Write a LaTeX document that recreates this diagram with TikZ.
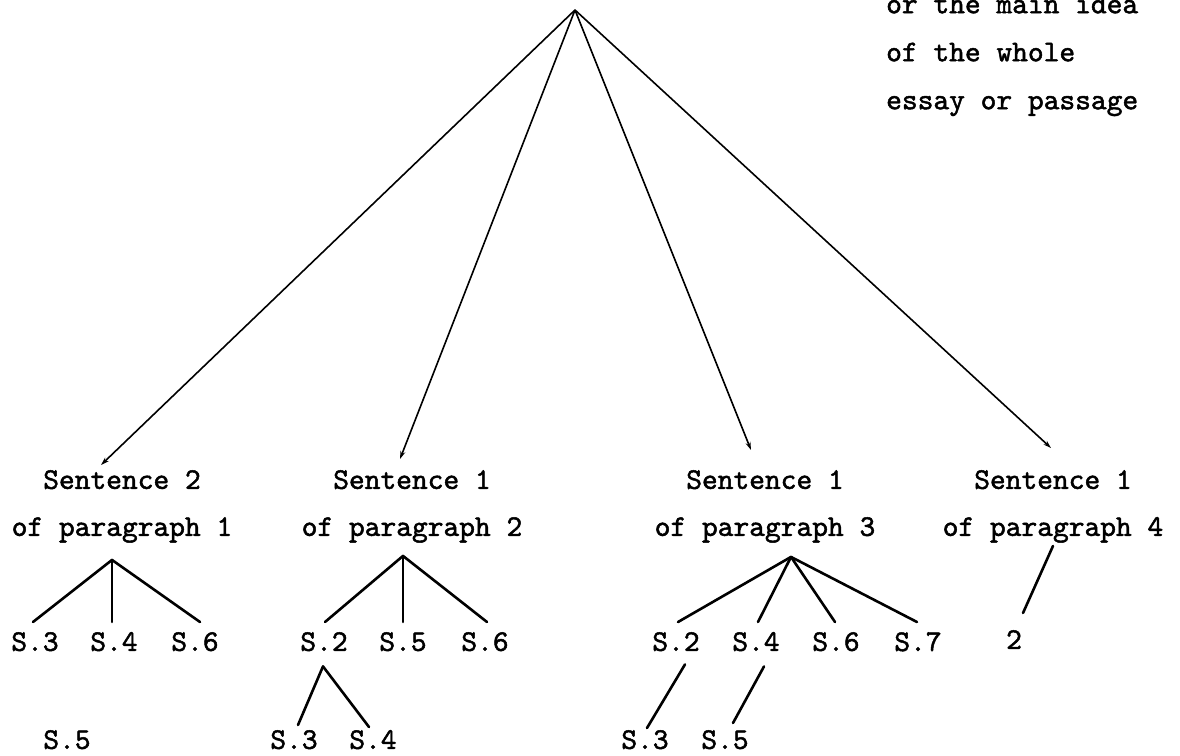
\documentclass[tikz,border=0pt]{standalone}
\usepackage{fontspec}
\newfontfamily\twfont{lmmono10-regular.otf}[FakeBold=1.6]
\usetikzlibrary{arrows.meta}
\begin{document}
\begin{tikzpicture}[x=1pt,y=-1pt,
  lbl/.style={font=\twfont\fontsize{30}{47}\selectfont, inner sep=0pt, anchor=north, align=center},
  mainline/.style={line width=1.6pt, -{Stealth[length=8pt,width=5pt]}},
  subline/.style={line width=2.6pt, line cap=round}]
\useasboundingbox (0,0) rectangle (1180,755);
\fill[white] (0,0) rectangle (1180,755);
\coordinate (top) at (575,10);
% second level
\node[lbl] (p1) at (122,470) {Sentence 2\\of paragraph 1};
\node[lbl] (p2) at (412,470) {Sentence 1\\of paragraph 2};
\node[lbl] (p3) at (765,470) {Sentence 1\\of paragraph 3};
\node[lbl] (p4) at (1053,470) {Sentence 1\\of paragraph 4};
\node[lbl, anchor=north west, align=left, font=\twfont\fontsize{30}{48}\selectfont] (note) at (886,-5.3) {or the main idea\\of the whole\\essay or passage};
% third level
\node[lbl] (a3) at (35,632) {S.3};
\node[lbl] (a4) at (114,632) {S.4};
\node[lbl] (a6) at (195,632) {S.6};
\node[lbl] (a5) at (67,730) {S.5};
\node[lbl] (b2) at (324,632) {S.2};
\node[lbl] (b5) at (403,632) {S.5};
\node[lbl] (b6) at (485,632) {S.6};
\node[lbl] (b3) at (294,730) {S.3};
\node[lbl] (b4) at (373,730) {S.4};
\node[lbl] (c2) at (676,632) {S.2};
\node[lbl] (c4) at (756,632) {S.4};
\node[lbl] (c6) at (836,632) {S.6};
\node[lbl] (c7) at (918,632) {S.7};
\node[lbl] (c3) at (645,730) {S.3};
\node[lbl] (c5) at (725,730) {S.5};
\node[lbl] (d2) at (1014,630) {2};
% junctions
\coordinate (j1) at ([xshift=-10pt,yshift=-17pt]p1.south);
\coordinate (j2) at ([xshift=-9pt,yshift=-13pt]p2.south);
\coordinate (j3) at ([xshift=26pt,yshift=-14pt]p3.south);
% main connectors
\draw[mainline] (top) -- ([xshift=-21pt,yshift=5pt]p1.north);
\draw[mainline] (top) -- ([xshift=-12pt,yshift=11pt]p2.north);
\draw[mainline] (top) -- ([xshift=-14pt,yshift=20pt]p3.north);
\draw[mainline] (top) -- ([xshift=-2pt,yshift=22pt]p4.north);
% paragraph 1
\draw[subline] (j1) -- ([xshift=-2pt,yshift=10pt]a3.north);
\draw[subline] (j1) -- ([xshift=-2pt,yshift=10pt]a4.north);
\draw[subline] (j1) -- ([xshift=5pt,yshift=10pt]a6.north);
% paragraph 2
\draw[subline] (j2) -- ([xshift=1pt,yshift=10pt]b2.north);
\draw[subline] (j2) -- ([yshift=10pt]b5.north);
\draw[subline] (j2) -- ([xshift=2pt,yshift=10pt]b6.north);
\draw[subline] ([xshift=-1pt,yshift=-15pt]b2.south) -- ([xshift=4pt,yshift=5pt]b3.north);
\draw[subline] ([xshift=-1pt,yshift=-15pt]b2.south) -- ([xshift=-4pt,yshift=3pt]b4.north);
% paragraph 3
\draw[subline] (j3) -- ([xshift=2pt,yshift=10pt]c2.north);
\draw[subline] (j3) -- ([xshift=2pt,yshift=10pt]c4.north);
\draw[subline] (j3) -- ([xshift=-1pt,yshift=10pt]c6.north);
\draw[subline] (j3) -- ([xshift=-1pt,yshift=10pt]c7.north);
\draw[subline] ([xshift=9pt,yshift=-13pt]c2.south) -- ([xshift=2pt,yshift=2pt]c3.north);
\draw[subline] ([xshift=8pt,yshift=-15pt]c4.south) -- ([xshift=8pt,yshift=7pt]c5.north);
% paragraph 4
\draw[subline] ([yshift=-3pt]p4.south) -- ([xshift=9pt,yshift=17pt]d2.north);
\end{tikzpicture}
\end{document}
